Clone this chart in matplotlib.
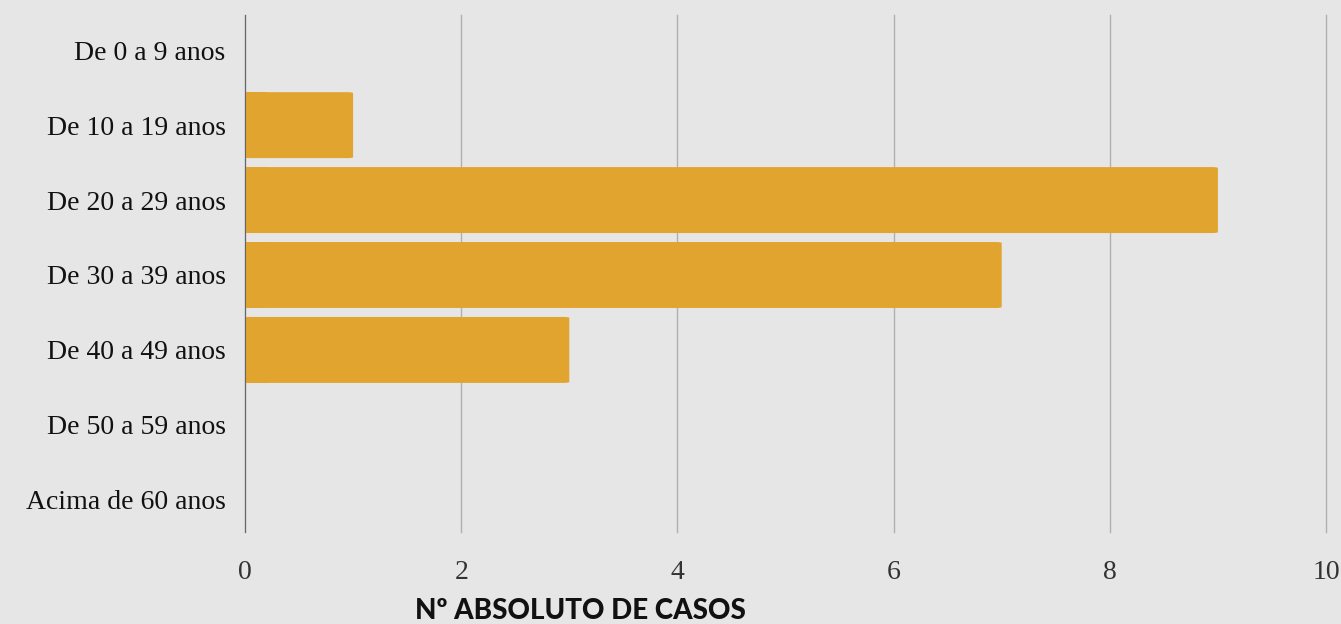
import numpy as np
import matplotlib.pyplot as plt
from matplotlib.patches import FancyBboxPatch

faixas = ['De 0 a 9 anos', 'De 10 a 19 anos', 'De 20 a 29 anos', 'De 30 a 39 anos',
          'De 40 a 49 anos', 'De 50 a 59 anos', 'Acima de 60 anos']
casos = [0, 1, 9, 7, 3, 0, 0]
xticks = [0, 2, 4, 6, 8, 10]

bg = '#e6e6e7'
gold = '#e1a42e'

fig = plt.figure(figsize=(13.41, 6.24), dpi=100, facecolor=bg)
ax = fig.add_axes([245 / 1341, 1 - 532 / 624, (1326 - 245) / 1341, (532 - 15) / 624])
ax.set_facecolor(bg)

y = np.arange(len(faixas))
h = 0.88
ax.set_xlim(0, 10)
ax.set_ylim(len(faixas) - 1 + 0.43, -0.47)

# rounded bars
for yi, v in zip(y, casos):
    if v <= 0:
        continue
    p = FancyBboxPatch((0, yi - h / 2), v, h,
                       boxstyle='round,pad=0,rounding_size=0.05',
                       mutation_aspect=0.26,
                       facecolor=gold, edgecolor='none', zorder=3)
    ax.add_patch(p)
# square off the left end at the axis
ax.barh(y, [min(v, 0.2) for v in casos], height=h, color=gold, zorder=3, linewidth=0)

ax.set_yticks(y)
ax.set_yticklabels(faixas, fontfamily='Liberation Serif', fontsize=20, color='#111111')
ax.set_xticks(xticks)
ax.set_xticklabels([str(t) for t in xticks], fontfamily='Liberation Serif', fontsize=20, color='#333333')
ax.tick_params(axis='both', length=0)
ax.tick_params(axis='x', pad=20)
ax.tick_params(axis='y', pad=14)

ax.grid(axis='x', color='#b0b0b0', linewidth=1, zorder=0)
for gl in ax.get_xgridlines():
    gl.set_clip_on(False)
for s in ['top', 'right', 'bottom']:
    ax.spines[s].set_visible(False)
ax.spines['left'].set_color('#666666')
ax.spines['left'].set_zorder(4)

fig.text(580 / 1341, 1 - 611 / 624, 'Nº ABSOLUTO DE CASOS', ha='center', va='center',
         fontfamily='Lato', fontweight='black', fontsize=20, color='#111111')

fig.savefig('out.png', dpi=100, facecolor=bg)
